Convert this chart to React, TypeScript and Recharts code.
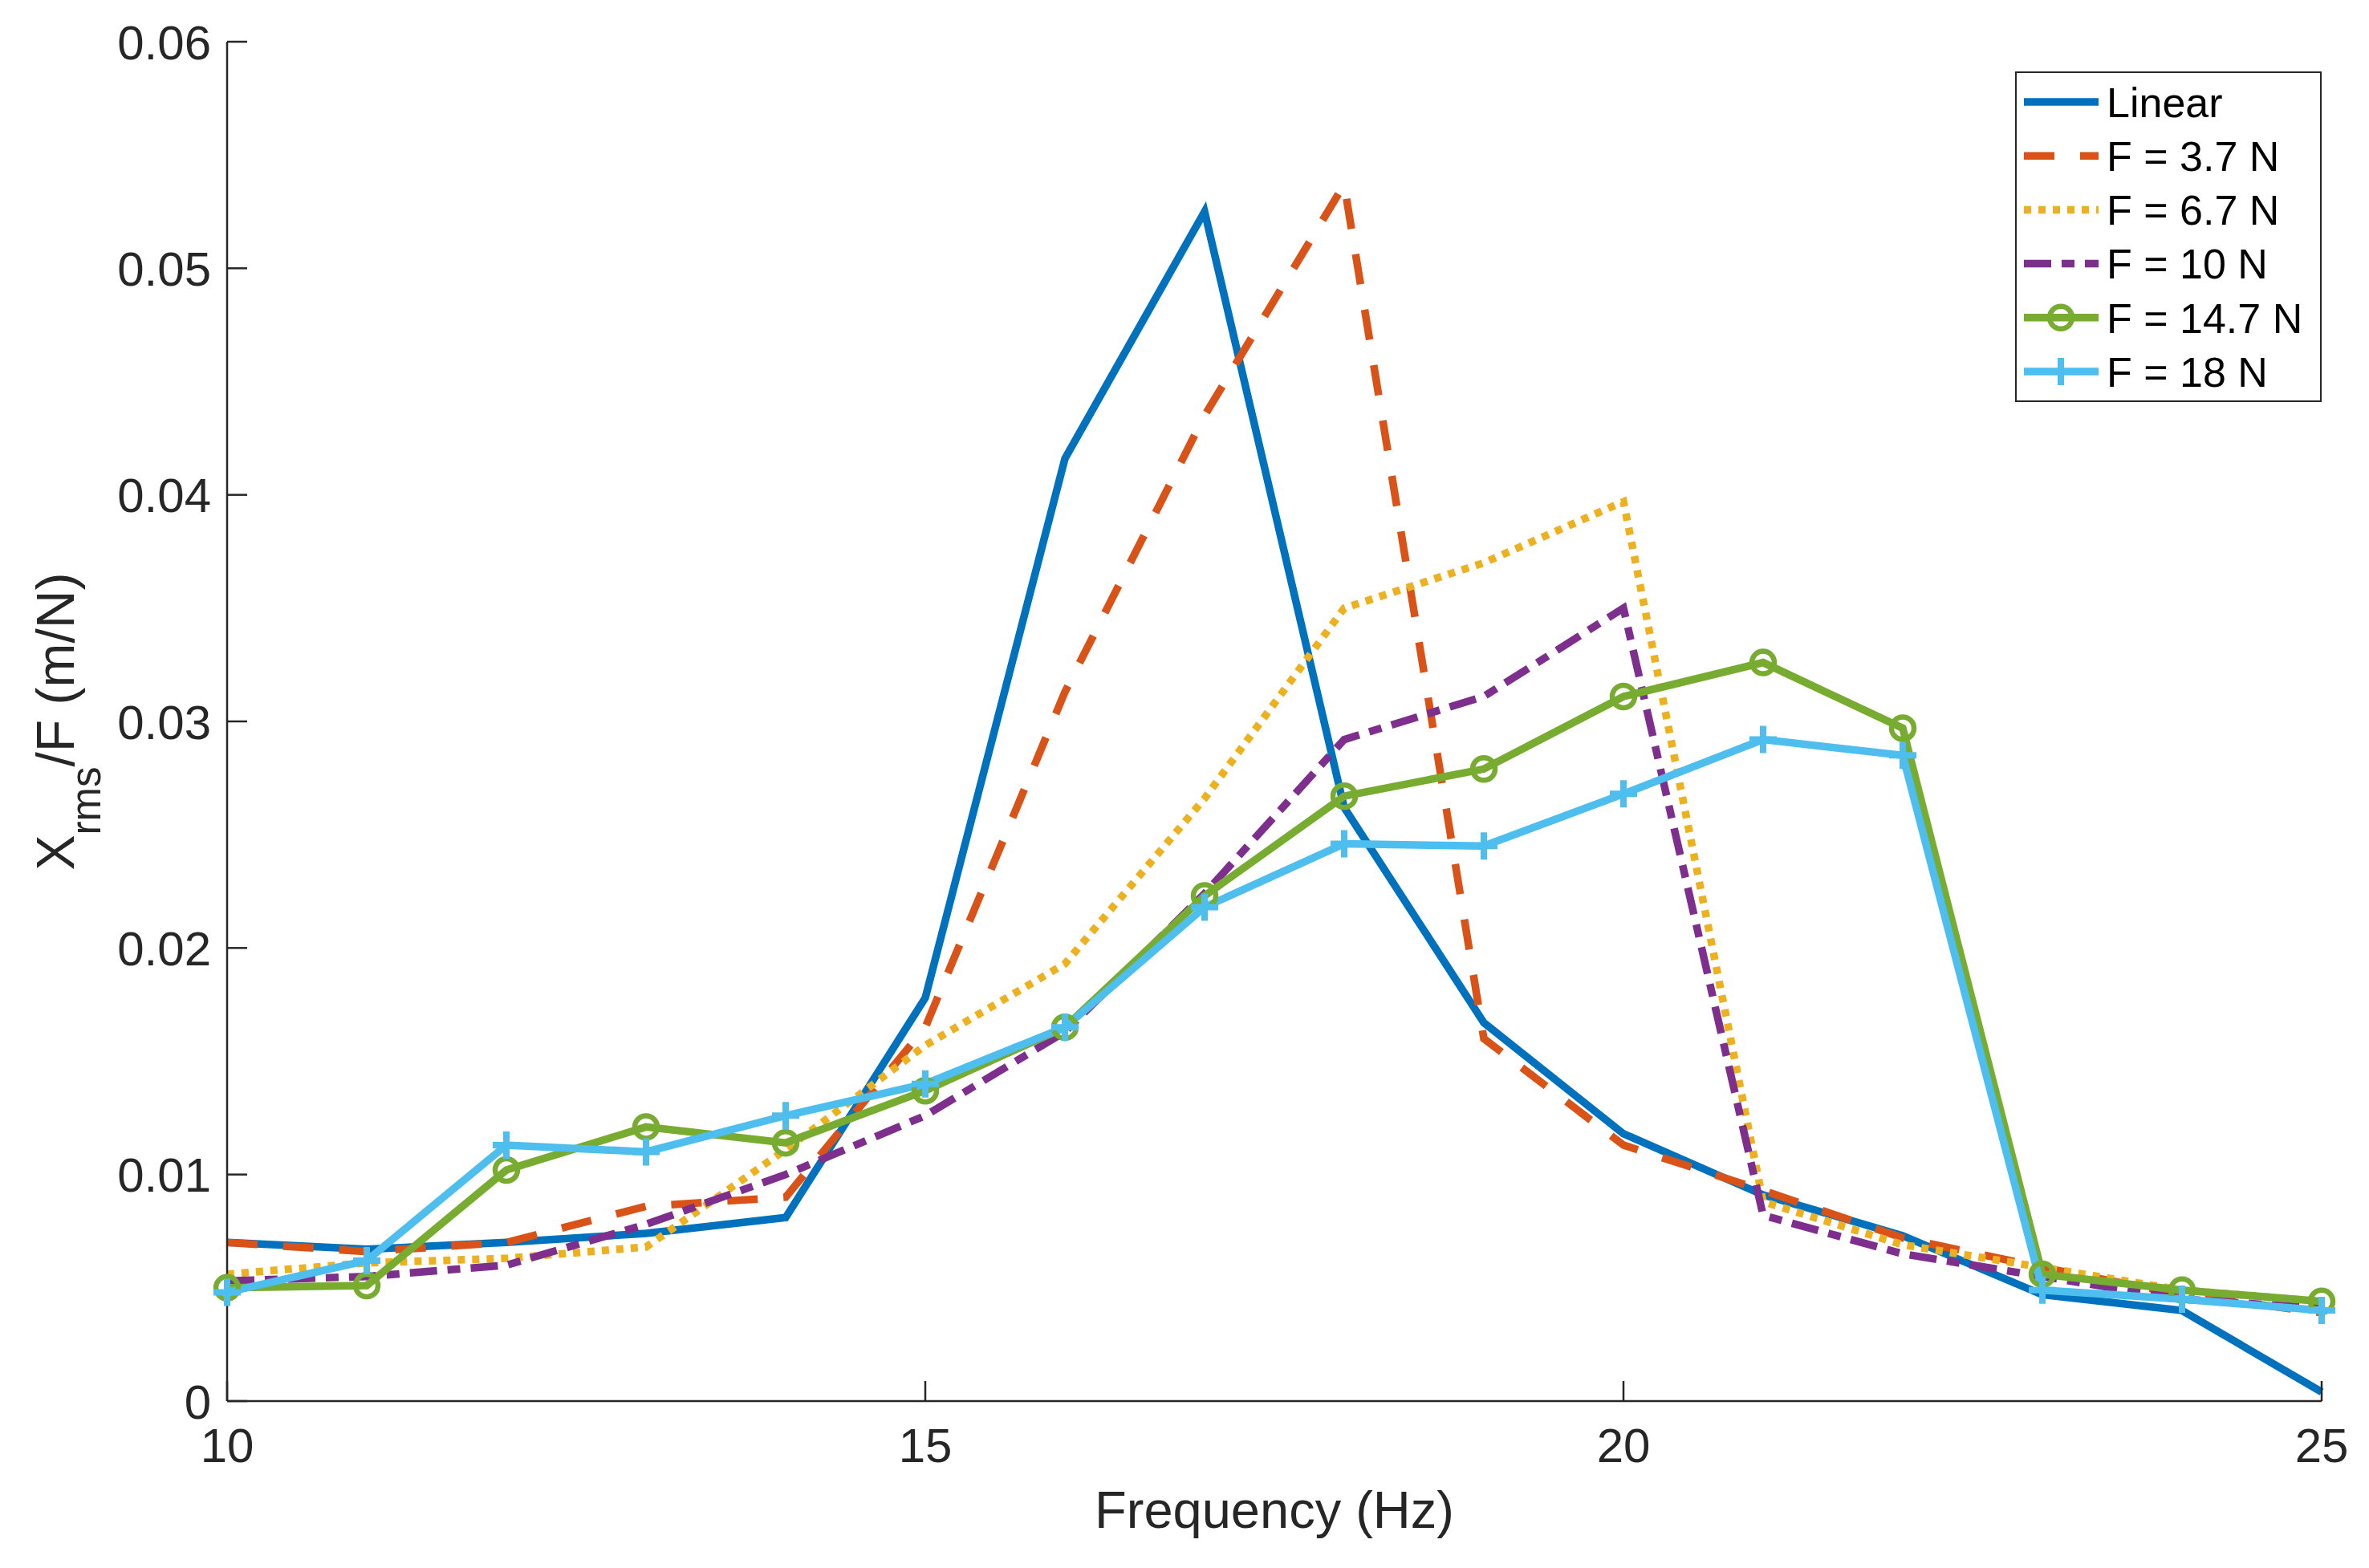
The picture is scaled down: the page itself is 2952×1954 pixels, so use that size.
import React from "react"
import { LineChart, Line, XAxis, YAxis, Legend } from "recharts"

// frequency points (Hz)
const freq = [10, 11, 12, 13, 14, 15, 16, 17, 18, 19, 20, 21, 22, 23, 24, 25]

// Xrms/F (m/N) per series
const linear = [0.0070, 0.0067, 0.0070, 0.0074, 0.0081, 0.0178, 0.0416, 0.0525, 0.0262, 0.0167, 0.0118, 0.0091, 0.0073, 0.0047, 0.0040, 0.0004]
const f37 = [0.0070, 0.0066, 0.0070, 0.0086, 0.0090, 0.0165, 0.0313, 0.0435, 0.0537, 0.0160, 0.0113, 0.0093, 0.0072, 0.0059, 0.0047, 0.0039]
const f67 = [0.0056, 0.0061, 0.0063, 0.0068, 0.0111, 0.0157, 0.0193, 0.0266, 0.0350, 0.0370, 0.0397, 0.0088, 0.0069, 0.0059, 0.0049, 0.0044]
const f10 = [0.0053, 0.0055, 0.0060, 0.0078, 0.0100, 0.0126, 0.0163, 0.0224, 0.0292, 0.0311, 0.0350, 0.0082, 0.0065, 0.0055, 0.0045, 0.0041]
const f147 = [0.0050, 0.0051, 0.0102, 0.0121, 0.0114, 0.0137, 0.0165, 0.0223, 0.0267, 0.0279, 0.0311, 0.0326, 0.0297, 0.0056, 0.0049, 0.0044]
const f18 = [0.0048, 0.0062, 0.0113, 0.0110, 0.0126, 0.0140, 0.0165, 0.0218, 0.0246, 0.0245, 0.0268, 0.0292, 0.0285, 0.0049, 0.0045, 0.0040]

const xTicks = [10, 15, 20, 25]
const yTicks = [0, 0.01, 0.02, 0.03, 0.04, 0.05, 0.06]

const FONT = "'Liberation Sans', Arial, Helvetica, sans-serif"
const AXIS = "#262626"
const TICK_LEN = 25
const LW = 9.5

const data = freq.map((f, i) => ({
  f,
  linear: linear[i],
  f37: f37[i],
  f67: f67[i],
  f10: f10[i],
  f147: f147[i],
  f18: f18[i],
}))

type Marker = "none" | "circle" | "plus"

const series: { key: string; name: string; color: string; dash?: string; marker: Marker }[] = [
  { key: "linear", name: "Linear", color: "#0072BD", marker: "none" },
  { key: "f37", name: "F = 3.7 N", color: "#D95319", dash: "38 32", marker: "none" },
  { key: "f67", name: "F = 6.7 N", color: "#EDB120", dash: "9 9", marker: "none" },
  { key: "f10", name: "F = 10 N", color: "#7E2F8E", dash: "34 13 16 13", marker: "none" },
  { key: "f147", name: "F = 14.7 N", color: "#77AC30", marker: "circle" },
  { key: "f18", name: "F = 18 N", color: "#4DBEEE", marker: "plus" },
]

const fmt = (v: number) => (v === 0 ? "0" : String(v))

function LeftTick({ x, y, payload }: any) {
  return (
    <g>
      <line x1={x} x2={x + TICK_LEN} y1={y} y2={y} stroke={AXIS} strokeWidth={2.5} />
      <text x={x - 20} y={y} dy="0.36em" textAnchor="end" fill={AXIS} fontSize={60} fontFamily={FONT}>
        {fmt(payload.value)}
      </text>
    </g>
  )
}

function RightTick({ x, y }: any) {
  return <line x1={x} x2={x - TICK_LEN} y1={y} y2={y} stroke={AXIS} strokeWidth={2.5} />
}

function BottomTick({ x, y, payload }: any) {
  return (
    <g>
      <line x1={x} x2={x} y1={y} y2={y - TICK_LEN} stroke={AXIS} strokeWidth={2.5} />
      <text x={x} y={y + 76} textAnchor="middle" fill={AXIS} fontSize={60} fontFamily={FONT}>
        {payload.value}
      </text>
    </g>
  )
}

function TopTick({ x, y }: any) {
  return <line x1={x} x2={x} y1={y} y2={y + TICK_LEN} stroke={AXIS} strokeWidth={2.5} />
}

function PlusDot(props: any) {
  const { cx, cy, stroke, index } = props
  if (cx == null || cy == null) return null
  return (
    <path
      key={`plus-${index}`}
      d={`M${cx - 17},${cy}H${cx + 17}M${cx},${cy - 17}V${cy + 17}`}
      stroke={stroke}
      strokeWidth={8}
      fill="none"
    />
  )
}

function YLabel() {
  return (
    <text
      transform="rotate(-90, 92, 899)"
      x={92}
      y={899}
      textAnchor="middle"
      fill={AXIS}
      fontSize={66}
      fontFamily={FONT}
    >
      X
      <tspan fontSize={51} dy={33}>rms</tspan>
      <tspan dy={-33}>/F (m/N)</tspan>
    </text>
  )
}

function XLabel() {
  return (
    <text x={1588} y={1904} textAnchor="middle" fill={AXIS} fontSize={65} fontFamily={FONT}>
      Frequency (Hz)
    </text>
  )
}

function LegendBox() {
  const w = 382
  const h = 412
  return (
    <svg width={w} height={h} style={{ display: "block" }}>
      <rect x={1} y={1} width={w - 2} height={h - 2} fill="#fff" stroke={AXIS} strokeWidth={2} />
      {series.map((s, i) => {
        const cy = 38 + i * 67.2
        return (
          <g key={s.key}>
            <line x1={11} x2={104} y1={cy} y2={cy} stroke={s.color} strokeWidth={LW} strokeDasharray={s.dash} />
            {s.marker === "circle" && <circle cx={57} cy={cy} r={14} stroke={s.color} strokeWidth={6.5} fill="none" />}
            {s.marker === "plus" && (
              <path d={`M${57 - 17},${cy}H${57 + 17}M57,${cy - 17}V${cy + 17}`} stroke={s.color} strokeWidth={8} />
            )}
            <text x={114} y={cy} dy="0.36em" fill="#000" fontSize={52} fontFamily={FONT}>
              {s.name}
            </text>
          </g>
        )
      })}
    </svg>
  )
}

export default function App() {
  return (
    <div style={{ position: "absolute", left: 0, top: 0, background: "#fff" }}>
      <LineChart width={2952} height={1954} data={data} margin={{ top: 52, right: 59, bottom: 0, left: 0 }}>
        <XAxis
          xAxisId={0}
          dataKey="f"
          type="number"
          domain={[10, 25]}
          ticks={xTicks}
          height={208}
          axisLine={{ stroke: AXIS, strokeWidth: 2.5 }}
          tickLine={false}
          tickSize={0}
          tickMargin={0}
          tick={<BottomTick />}
          interval={0}
          label={<XLabel />}
        />
        <XAxis
          xAxisId="top"
          orientation="top"
          dataKey="f"
          type="number"
          domain={[10, 25]}
          ticks={xTicks}
          height={0}
          axisLine={{ stroke: AXIS, strokeWidth: 2.5 }}
          tickLine={false}
          tickSize={0}
          tickMargin={0}
          tick={<TopTick />}
          interval={0}
        />
        <YAxis
          yAxisId={0}
          type="number"
          domain={[0, 0.06]}
          ticks={yTicks}
          width={283}
          axisLine={{ stroke: AXIS, strokeWidth: 2.5 }}
          tickLine={false}
          tickSize={0}
          tickMargin={0}
          tick={<LeftTick />}
          interval={0}
          label={<YLabel />}
        />
        <YAxis
          yAxisId="right"
          orientation="right"
          type="number"
          domain={[0, 0.06]}
          ticks={yTicks}
          width={0}
          axisLine={{ stroke: AXIS, strokeWidth: 2.5 }}
          tickLine={false}
          tickSize={0}
          tickMargin={0}
          tick={<RightTick />}
          interval={0}
        />
        {series.map((s) => (
          <Line
            key={s.key}
            xAxisId={0}
            yAxisId={0}
            type="linear"
            dataKey={s.key}
            name={s.name}
            stroke={s.color}
            strokeWidth={LW}
            strokeDasharray={s.dash}
            strokeLinejoin="miter"
            dot={
              s.marker === "circle"
                ? { r: 14, stroke: s.color, strokeWidth: 6.5, fill: "none" }
                : s.marker === "plus"
                ? PlusDot
                : false
            }
            activeDot={false}
            isAnimationActive={false}
          />
        ))}
        <Legend
          layout="vertical"
          align="center"
          verticalAlign="middle"
          content={() => <LegendBox />}
          wrapperStyle={{ position: "absolute", left: 2511, top: 89, width: 382, height: 412 }}
        />
      </LineChart>
    </div>
  )
}
